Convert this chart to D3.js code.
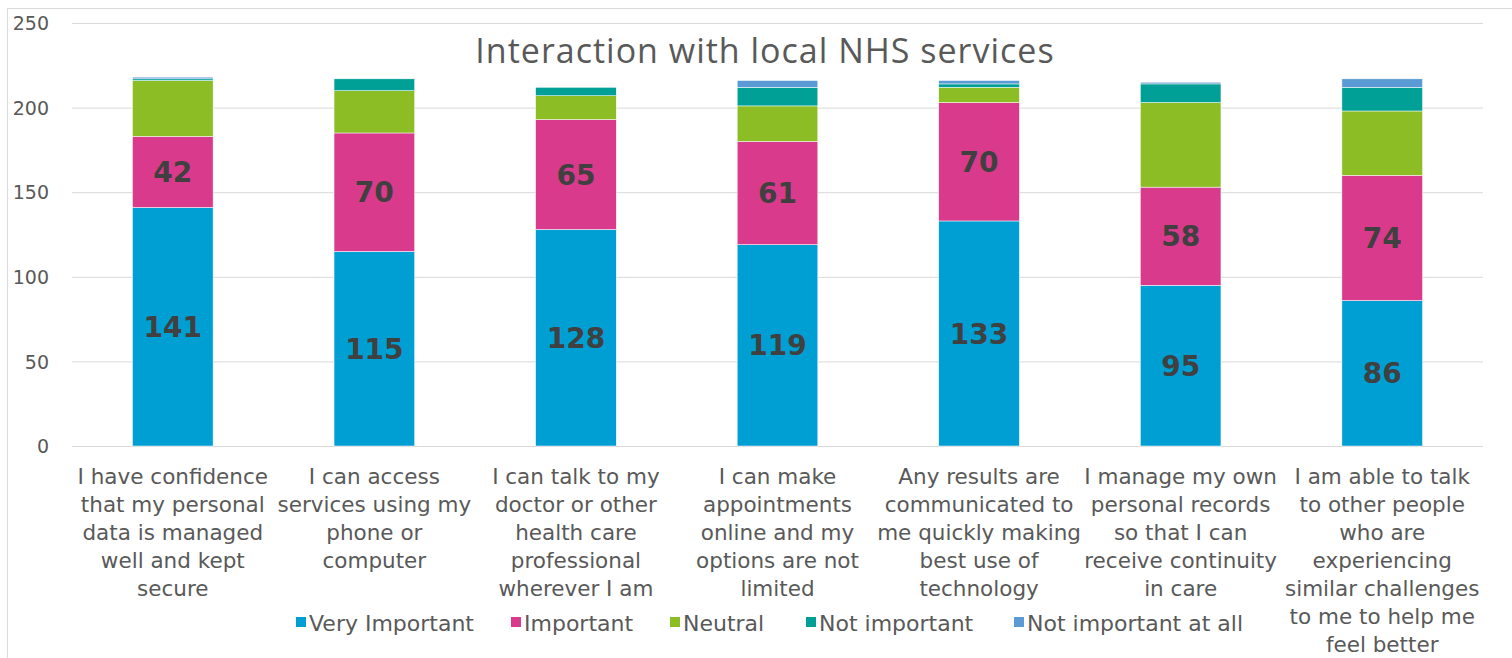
<!DOCTYPE html>
<html><head><meta charset="utf-8">
<script src="https://cdn.jsdelivr.net/npm/d3@7"></script>
<style>body{margin:0;background:#fff;} svg{display:block;}</style>
</head><body>
<svg id="c" width="1512" height="658"></svg>
<script>
const categories = [
  ["I have confidence","that my personal","data is managed","well and kept","secure"],
  ["I can access","services using my","phone or","computer"],
  ["I can talk to my","doctor or other","health care","professional","wherever I am"],
  ["I can make","appointments","online and my","options are not","limited"],
  ["Any results are","communicated to","me quickly making","best use of","technology"],
  ["I manage my own","personal records","so that I can","receive continuity","in care"],
  ["I am able to talk","to other people","who are","experiencing","similar challenges","to me to help me","feel better"]
];
const seriesNames = ["Very Important","Important","Neutral","Not important","Not important at all"];
const veryImportant = [141,115,128,119,133,95,86];
const important = [42,70,65,61,70,58,74];
const neutral = [33,25,14,21,9,50,38];
const notImportant = [1,7,5,11,2,11,14];
const notAtAll = [1,0,0,4,2,1,5];
const yTicks = [0,50,100,150,200,250];
const colors = ["#009FD3","#D93A8C","#8CBD24","#00A096","#5B9BD5"];
const labelled = [true,true,false,false,false];

const seriesVals = [veryImportant,important,neutral,notImportant,notAtAll];
const rows = categories.map((c,i)=>{
  const r = {key:i};
  seriesNames.forEach((s,j)=>r[s]=seriesVals[j][i]);
  return r;
});
const stack = d3.stack().keys(seriesNames)(rows);

const svg = d3.select("#c");
const font = "'Open Sans', sans-serif";
const font2 = "'DejaVu Sans', sans-serif";
// chart border
svg.append("rect").attr("x",7.5).attr("y",8.5).attr("width",1520).attr("height",700)
  .attr("fill","none").attr("stroke","#d9d9d9").attr("stroke-width",1);

const x = d3.scaleBand().domain(d3.range(categories.length)).range([72,1483]).paddingInner(0.6).paddingOuter(0.3);
const y = d3.scaleLinear().domain([0,250]).range([446,23]);

// grid
svg.append("g").selectAll("line").data(yTicks).join("line")
  .attr("x1",72).attr("x2",1483).attr("y1",d=>y(d)+0.5).attr("y2",d=>y(d)+0.5)
  .attr("stroke","#d9d9d9").attr("stroke-width",1);

// y axis
const yAxis = d3.axisLeft(y).tickValues(yTicks).tickSize(0).tickPadding(0);
const ya = svg.append("g").attr("transform","translate(49,0)").call(yAxis);
ya.select(".domain").remove();
ya.selectAll("text").attr("font-family",font2).attr("font-size",19).attr("fill","#595959").attr("dy","0.35em");

// title
svg.append("text").attr("x",765).attr("y",63).attr("text-anchor","middle")
  .attr("font-family",font).attr("font-size",34).attr("letter-spacing",1).attr("fill","#595959")
  .text("Interaction with local NHS services");

// bars
const g = svg.append("g");
stack.forEach((s,j)=>{
  g.append("g").attr("fill",colors[j]).selectAll("rect").data(s).join("rect")
    .attr("x",(d,i)=>x(i)).attr("width",x.bandwidth())
    .attr("y",d=>y(d[1])).attr("height",d=>Math.max(0,y(d[0])-y(d[1])))
    .attr("stroke","#ffffff").attr("stroke-width",0.5);
  if(labelled[j]){
    g.append("g").selectAll("text").data(s).join("text")
      .attr("x",(d,i)=>x(i)+x.bandwidth()/2).attr("y",d=>(y(d[0])+y(d[1]))/2)
      .attr("dy","0.36em").attr("text-anchor","middle")
      .attr("font-family",font2).attr("font-weight","bold").attr("font-size",28)
      .attr("fill","#404040").text(d=>d[1]-d[0]);
  }
});

// category labels
const xl = svg.append("g");
categories.forEach((lines,i)=>{
  const t = xl.append("text").attr("text-anchor","middle").attr("font-family",font2)
    .attr("font-size",21.5).attr("fill","#595959");
  lines.forEach((ln,k)=>{
    t.append("tspan").attr("x",x(i)+x.bandwidth()/2).attr("y",484+k*28).text(ln);
  });
});

// legend
const legX = [296,511,670,806,1014];
const lg = svg.append("g");
seriesNames.forEach((s,j)=>{
  lg.append("rect").attr("x",legX[j]).attr("y",617).attr("width",10).attr("height",10).attr("fill",colors[j]);
  lg.append("text").attr("x",legX[j]+13).attr("y",631).attr("font-family",font2).attr("font-size",22)
    .attr("fill","#595959").text(s);
});
</script>
</body></html>
